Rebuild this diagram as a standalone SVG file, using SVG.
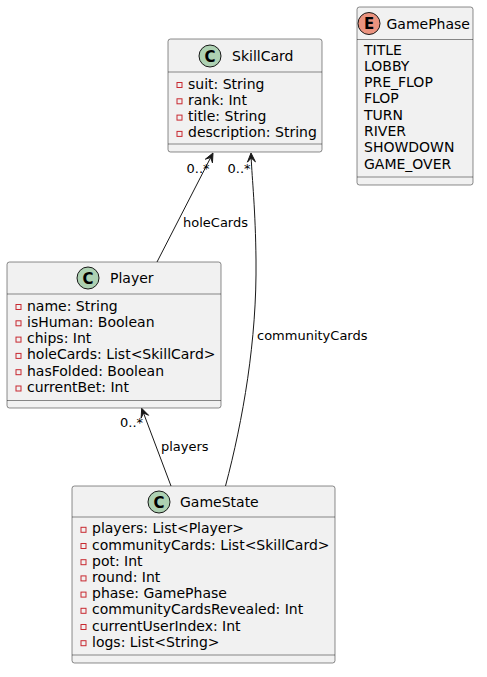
<svg xmlns="http://www.w3.org/2000/svg" width="487" height="677" viewBox="0 0 487 677">
<style>
text{font-family:"DejaVu Sans",Verdana,sans-serif;fill:#000}
.box{fill:#F1F1F1;stroke:#181818;stroke-width:0.5}
.sep{stroke:#181818;stroke-width:0.5}
.name{font-size:14px}
.attr{font-size:14px}
.lbl{font-size:13px}
.vis{fill:none;stroke:#C82930;stroke-width:1}
.cc{fill:#ADD1B2;stroke:#181818;stroke-width:1}
.ce{fill:#EB937F;stroke:#181818;stroke-width:1}
.glyph{font-size:15px;font-weight:bold;text-anchor:middle}
.edge{fill:none;stroke:#181818;stroke-width:1}
.head{fill:#181818;stroke:#181818;stroke-width:1}
</style>
<rect width="487" height="677" fill="#FFFFFF"/>

<g id="SkillCard">
<rect class="box" x="168" y="39" width="154" height="113" rx="2.5"/>
<circle class="cc" cx="210" cy="56" r="11"/>
<text class="glyph" x="210" y="61.5">C</text>
<text class="name" x="232" y="60.5">SkillCard</text>
<line class="sep" x1="168" y1="72" x2="322" y2="72"/>
<rect class="vis" x="177" y="82.5" width="5" height="5"/><text class="attr" x="188" y="88.5">suit: String</text>
<rect class="vis" x="177" y="98.8" width="5" height="5"/><text class="attr" x="188" y="104.8">rank: Int</text>
<rect class="vis" x="177" y="115.1" width="5" height="5"/><text class="attr" x="188" y="121.1">title: String</text>
<rect class="vis" x="177" y="131.4" width="5" height="5"/><text class="attr" x="188" y="137.4">description: String</text>
<line class="sep" x1="168" y1="144" x2="322" y2="144"/>
</g>

<g id="GamePhase">
<rect class="box" x="357" y="7" width="116" height="178" rx="2.5"/>
<circle class="ce" cx="369" cy="23.5" r="11"/>
<text class="glyph" x="369" y="29">E</text>
<text class="name" x="386.5" y="28.5">GamePhase</text>
<line class="sep" x1="357" y1="39.5" x2="473" y2="39.5"/>
<text class="attr" x="364" y="54.5">TITLE</text>
<text class="attr" x="364" y="70.8">LOBBY</text>
<text class="attr" x="364" y="87.1">PRE_FLOP</text>
<text class="attr" x="364" y="103.4">FLOP</text>
<text class="attr" x="364" y="119.7">TURN</text>
<text class="attr" x="364" y="136">RIVER</text>
<text class="attr" x="364" y="152.3">SHOWDOWN</text>
<text class="attr" x="364" y="168.6">GAME_OVER</text>
<line class="sep" x1="357" y1="177" x2="473" y2="177"/>
</g>

<g id="Player">
<rect class="box" x="7" y="262" width="214" height="146" rx="2.5"/>
<circle class="cc" cx="88" cy="278" r="11"/>
<text class="glyph" x="88" y="283.5">C</text>
<text class="name" x="110" y="283">Player</text>
<line class="sep" x1="7" y1="294" x2="221" y2="294"/>
<rect class="vis" x="16" y="304.5" width="5" height="5"/><text class="attr" x="27" y="310.5">name: String</text>
<rect class="vis" x="16" y="320.8" width="5" height="5"/><text class="attr" x="27" y="326.8">isHuman: Boolean</text>
<rect class="vis" x="16" y="337.1" width="5" height="5"/><text class="attr" x="27" y="343.1">chips: Int</text>
<rect class="vis" x="16" y="353.4" width="5" height="5"/><text class="attr" x="27" y="359.4">holeCards: List&lt;SkillCard&gt;</text>
<rect class="vis" x="16" y="369.7" width="5" height="5"/><text class="attr" x="27" y="375.7">hasFolded: Boolean</text>
<rect class="vis" x="16" y="386" width="5" height="5"/><text class="attr" x="27" y="392">currentBet: Int</text>
<line class="sep" x1="7" y1="400.5" x2="221" y2="400.5"/>
</g>

<g id="GameState">
<rect class="box" x="72" y="486" width="263" height="177" rx="2.5"/>
<circle class="cc" cx="159" cy="502" r="11"/>
<text class="glyph" x="159" y="507.5">C</text>
<text class="name" x="180" y="507">GameState</text>
<line class="sep" x1="72" y1="517" x2="335" y2="517"/>
<rect class="vis" x="81" y="527.3" width="5" height="5"/><text class="attr" x="92" y="533.3">players: List&lt;Player&gt;</text>
<rect class="vis" x="81" y="543.5" width="5" height="5"/><text class="attr" x="92" y="549.5">communityCards: List&lt;SkillCard&gt;</text>
<rect class="vis" x="81" y="559.7" width="5" height="5"/><text class="attr" x="92" y="565.7">pot: Int</text>
<rect class="vis" x="81" y="575.9" width="5" height="5"/><text class="attr" x="92" y="581.9">round: Int</text>
<rect class="vis" x="81" y="592.1" width="5" height="5"/><text class="attr" x="92" y="598.1">phase: GamePhase</text>
<rect class="vis" x="81" y="608.3" width="5" height="5"/><text class="attr" x="92" y="614.3">communityCardsRevealed: Int</text>
<rect class="vis" x="81" y="624.5" width="5" height="5"/><text class="attr" x="92" y="630.5">currentUserIndex: Int</text>
<rect class="vis" x="81" y="640.7" width="5" height="5"/><text class="attr" x="92" y="646.7">logs: List&lt;String&gt;</text>
<line class="sep" x1="72" y1="655" x2="335" y2="655"/>
</g>

<g id="connectors">
<path class="edge" d="M157,262 L210.7,157.5"/>
<polygon class="head" points="213,153 212.45,162.84 210.71,157.45 205.33,159.18"/>
<text class="lbl" x="186.5" y="172.5">0..*</text>
<text class="lbl" x="183" y="227">holeCards</text>

<path class="edge" d="M225.5,486 C243,420 257,340 256,260 C255.5,210 252,178 251.2,158"/>
<polygon class="head" points="251,153 255.41,161.81 251.23,158 247.41,162.17"/>
<text class="lbl" x="227.5" y="172.5">0..*</text>
<text class="lbl" x="257" y="340">communityCards</text>

<path class="edge" d="M171,486 L143.5,413"/>
<polygon class="head" points="141.7,408.3 148.62,415.31 143.47,412.98 141.14,418.13"/>
<text class="lbl" x="120" y="427">0..*</text>
<text class="lbl" x="161" y="451">players</text>
</g>
</svg>
